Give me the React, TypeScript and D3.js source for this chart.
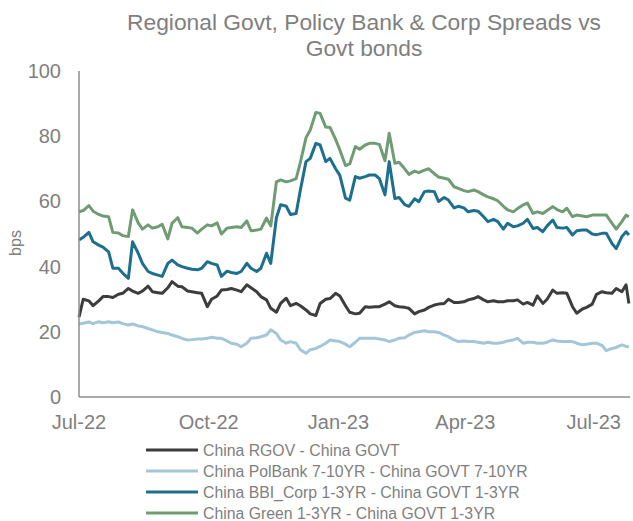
import React from "react";
import * as d3 from "d3";

const DATES = [
  "2022-07-01","2022-07-04","2022-07-08","2022-07-11","2022-07-15","2022-07-18","2022-07-22","2022-07-25","2022-07-29","2022-08-01",
  "2022-08-05","2022-08-08","2022-08-12","2022-08-15","2022-08-19","2022-08-22","2022-08-26","2022-08-29","2022-09-02","2022-09-05",
  "2022-09-09","2022-09-12","2022-09-16","2022-09-19","2022-09-23","2022-09-26","2022-09-30","2022-10-03","2022-10-07","2022-10-10",
  "2022-10-14","2022-10-17","2022-10-21","2022-10-24","2022-10-28","2022-10-31","2022-11-04","2022-11-07","2022-11-11","2022-11-14",
  "2022-11-18","2022-11-21","2022-11-25","2022-11-28","2022-12-02","2022-12-05","2022-12-09","2022-12-12","2022-12-16","2022-12-19",
  "2022-12-23","2022-12-26","2022-12-30","2023-01-02","2023-01-06","2023-01-09","2023-01-13","2023-01-16","2023-01-20","2023-01-23",
  "2023-01-27","2023-01-30","2023-02-03","2023-02-06","2023-02-10","2023-02-13","2023-02-17","2023-02-20","2023-02-24","2023-02-27",
  "2023-03-03","2023-03-06","2023-03-10","2023-03-13","2023-03-17","2023-03-20","2023-03-24","2023-03-27","2023-03-31","2023-04-03",
  "2023-04-07","2023-04-10","2023-04-14","2023-04-17","2023-04-21","2023-04-24","2023-04-28","2023-05-01","2023-05-05","2023-05-08",
  "2023-05-12","2023-05-15","2023-05-19","2023-05-22","2023-05-26","2023-05-29","2023-06-02","2023-06-05","2023-06-09","2023-06-12",
  "2023-06-16","2023-06-19","2023-06-23","2023-06-26","2023-06-30","2023-07-03","2023-07-07","2023-07-10","2023-07-14","2023-07-17",
  "2023-07-21","2023-07-24","2023-07-26",
];

const RGOV = [
  24.5,30.0,29.5,28.0,29.5,30.8,30.8,30.5,31.5,31.8,
  33.3,32.5,31.8,32.5,34.0,32.3,32.0,31.8,33.5,35.4,
  34.0,33.8,32.5,32.3,32.0,31.8,27.7,30.0,31.0,32.8,
  33.0,33.3,32.8,32.3,34.4,33.5,32.3,30.8,29.8,27.2,
  26.0,28.7,30.3,28.0,28.7,28.0,26.7,25.5,25.0,28.7,
  30.0,30.2,31.8,31.0,28.0,26.0,25.5,25.7,27.7,27.5,
  27.7,27.7,28.5,29.2,28.0,27.7,27.5,27.2,25.5,26.2,
  26.7,27.5,28.2,28.5,28.7,30.0,29.0,29.0,29.2,29.8,
  30.2,30.8,29.8,29.2,29.5,29.2,29.2,29.5,29.5,29.8,
  28.5,29.0,28.2,31.0,28.7,30.0,32.8,31.8,32.0,31.8,
  27.7,25.7,27.0,27.5,28.5,31.5,32.3,32.0,31.8,33.3,
  32.3,34.4,28.7,
];

const POLBANK = [
  22.4,22.6,23.0,22.5,23.1,22.8,23.1,22.8,23.0,22.5,
  22.1,22.4,21.8,21.6,21.0,20.6,20.0,19.8,19.5,19.0,
  18.5,18.0,17.5,17.6,17.8,17.8,18.0,18.3,18.0,18.0,
  17.2,16.5,16.2,15.4,16.5,18.0,18.2,18.5,19.0,20.6,
  19.5,17.5,16.5,17.0,16.5,14.5,13.4,14.5,14.9,15.5,
  16.5,17.5,17.2,17.0,16.2,15.4,16.8,18.0,18.0,18.0,
  18.0,17.8,17.5,17.0,17.5,18.0,18.2,19.0,19.8,20.0,
  20.3,20.0,20.0,19.8,19.0,18.5,17.5,17.0,17.2,17.0,
  17.0,16.8,16.5,16.8,16.5,16.5,16.8,17.2,17.5,18.0,
  16.5,16.8,16.8,16.5,16.5,16.8,17.5,17.2,17.0,17.0,
  17.0,16.5,16.0,16.2,16.5,16.5,15.8,14.2,14.9,15.2,
  16.0,15.5,15.4,
];

const BBI_CORP = [
  48.2,49.0,50.5,47.6,46.6,46.0,44.5,39.5,39.5,38.0,
  36.4,47.6,44.1,41.0,38.5,37.9,37.4,37.0,41.0,42.0,
  40.5,40.0,39.5,39.2,39.0,39.5,41.5,41.0,40.5,37.0,
  38.6,38.2,37.9,38.5,41.0,39.5,38.5,39.5,44.1,41.0,
  55.0,59.0,58.5,56.0,56.3,63.5,72.2,73.2,77.8,77.3,
  72.2,73.2,70.0,68.0,61.0,60.4,67.6,67.1,67.6,68.1,
  68.1,67.0,62.0,72.2,60.9,61.2,59.0,58.5,60.8,59.9,
  63.0,63.2,63.0,60.0,61.2,60.4,58.0,58.5,58.0,56.8,
  57.2,57.0,55.3,53.8,54.5,53.8,51.5,53.3,52.2,52.5,
  53.3,54.5,51.7,52.0,50.7,52.5,54.3,52.0,51.8,52.0,
  49.7,51.0,51.2,51.2,50.0,49.8,50.2,50.2,47.1,45.5,
  49.2,50.7,49.7,
];

const GREEN = [
  56.8,57.2,58.7,57.0,56.0,55.5,55.3,50.5,50.3,49.5,
  49.2,57.4,53.4,51.5,52.8,51.8,52.2,53.0,48.5,53.3,
  55.0,52.2,52.0,51.8,50.3,51.5,52.8,52.5,53.4,50.0,
  51.8,52.0,52.2,52.0,54.0,51.0,51.2,51.5,54.9,52.5,
  66.0,66.6,66.0,66.3,67.0,72.0,79.5,81.9,87.3,87.0,
  82.8,82.7,79.0,75.8,71.0,71.5,76.8,76.0,77.3,77.8,
  77.8,77.5,72.5,80.9,71.7,72.0,70.0,68.3,69.3,68.8,
  69.6,70.0,68.5,67.5,67.1,66.8,64.5,64.0,63.3,63.0,
  63.5,63.0,62.0,61.4,60.8,60.2,58.5,57.4,56.8,57.8,
  58.9,59.5,56.3,56.8,56.3,57.2,58.4,57.5,56.8,57.9,
  55.3,55.8,55.5,55.3,55.8,55.8,55.8,55.8,53.3,51.5,
  53.8,55.8,55.3,
];

const SERIES_NAMES = [
  "China RGOV - China GOVT",
  "China PolBank 7-10YR - China GOVT 7-10YR",
  "China BBI_Corp 1-3YR - China GOVT 1-3YR",
  "China Green 1-3YR - China GOVT 1-3YR",
];
const SERIES_VALUES = [RGOV, POLBANK, BBI_CORP, GREEN];
const SERIES_COLORS = ["#3d3d3d", "#a3c7d8", "#1d6f8d", "#6f9c73"];

const Y_TICKS = [0, 20, 40, 60, 80, 100];
const X_TICKS = ["2022-07-01", "2022-10-01", "2023-01-01", "2023-04-01", "2023-07-01"];
const TITLE_LINES = ["Regional Govt, Policy Bank & Corp Spreads vs", "Govt bonds"];
const Y_LABEL = "bps";

const W = 633;
const H = 521;
const FONT = "'Liberation Sans', Arial, sans-serif";
const TEXT_COLOR = "#7f7f7f";
const AXIS_COLOR = "#8c8c8c";

export default function App() {
  const parse = d3.utcParse("%Y-%m-%d");
  const fmt = d3.utcFormat("%b-%y");
  const dates = DATES.map((s) => parse(s) as Date);

  const x = d3
    .scaleUtc()
    .domain([parse("2022-07-01") as Date, parse("2023-07-26") as Date])
    .range([79, 628.9]);
  const y = d3.scaleLinear().domain([0, 100]).range([397, 71]);

  const line = d3
    .line<number>()
    .x((_, i) => x(dates[i]))
    .y((v) => y(v))
    .curve(d3.curveLinear);

  const legendY0 = 450;
  const legendStep = 21;

  return (
    <svg
      width={W}
      height={H}
      style={{ position: "absolute", left: 0, top: 0, background: "#fff" }}
      fontFamily={FONT}
    >
      <rect x={0} y={0} width={W} height={H} fill="#fff" />
      {TITLE_LINES.map((t, i) => (
        <text
          key={t}
          x={364}
          y={30 + i * 26}
          textAnchor="middle"
          fontSize={22.8}
          fill={TEXT_COLOR}
        >
          {t}
        </text>
      ))}

      {/* y tick labels */}
      {Y_TICKS.map((v) => (
        <text
          key={v}
          x={61}
          y={y(v)}
          dy="0.35em"
          textAnchor="end"
          fontSize={20}
          fill={TEXT_COLOR}
        >
          {v}
        </text>
      ))}
      <text
        transform={`translate(21,${243}) rotate(-90)`}
        textAnchor="middle"
        fontSize={16}
        fill={TEXT_COLOR}
      >
        {Y_LABEL}
      </text>

      {/* x tick labels */}
      {X_TICKS.map((s) => {
        const d = parse(s) as Date;
        return (
          <text
            key={s}
            x={x(d)}
            y={429}
            textAnchor="middle"
            fontSize={20}
            fill={TEXT_COLOR}
          >
            {fmt(d)}
          </text>
        );
      })}

      {/* series */}
      {SERIES_VALUES.map((vals, si) => (
        <path
          key={si}
          d={line(vals) || ""}
          fill="none"
          stroke={SERIES_COLORS[si]}
          strokeWidth={3}
          strokeLinejoin="round"
        />
      ))}

      {/* axes */}
      <line x1={79} x2={79} y1={y(100)} y2={y(0)} stroke={AXIS_COLOR} strokeWidth={1.5} />
      <line x1={79} x2={630} y1={y(0)} y2={y(0)} stroke={AXIS_COLOR} strokeWidth={1.5} />

      {/* legend */}
      {SERIES_NAMES.map((name, i) => (
        <g key={name} transform={`translate(0,${legendY0 + i * legendStep})`}>
          <line x1={146} x2={198} y1={0} y2={0} stroke={SERIES_COLORS[i]} strokeWidth={3} />
          <text x={203} y={0} dy="0.35em" fontSize={15.8} fill={TEXT_COLOR}>
            {name}
          </text>
        </g>
      ))}
    </svg>
  );
}
